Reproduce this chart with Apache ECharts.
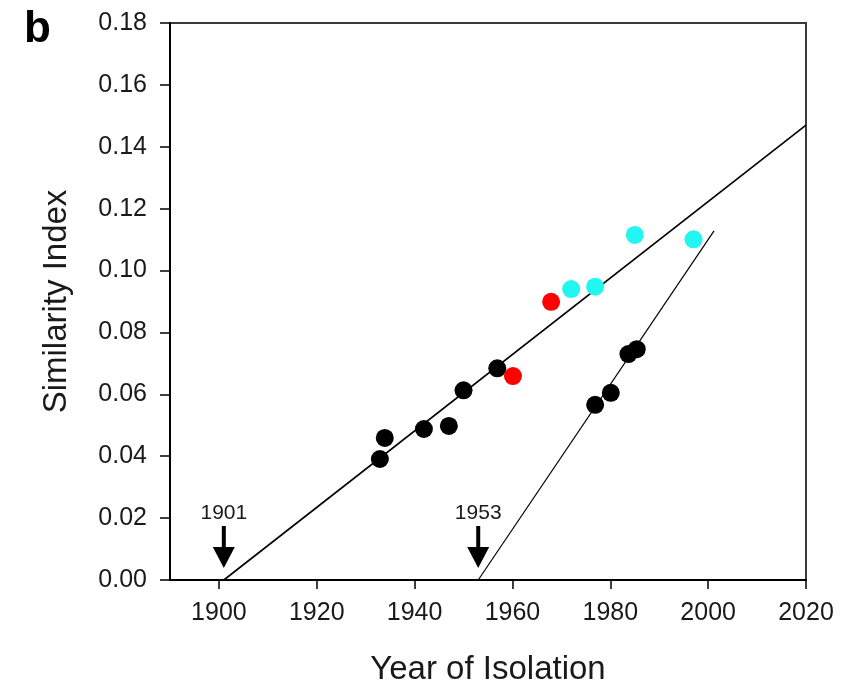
<!DOCTYPE html>
<html>
<head>
<meta charset="utf-8">
<script src="https://cdn.jsdelivr.net/npm/echarts@6/dist/echarts.min.js"></script>
<style>
  html, body { margin: 0; padding: 0; background: #fff; }
  #chart { width: 850px; height: 686px; }
</style>
</head>
<body>
<div id="chart"></div>
<script>
// Early isolates (black) fitted by the first regression line
const earlyYears  = [1932.9, 1933.9, 1941.9, 1947.0, 1950.0, 1956.9];
const earlyValues = [0.0391, 0.0459, 0.0488, 0.0498, 0.0613, 0.0684];

// Red isolates
const redYears  = [1960.1, 1967.9];
const redValues = [0.0659, 0.0899];

// Cyan isolates
const cyanYears  = [1972.0, 1976.9, 1985.0, 1997.0];
const cyanValues = [0.0940, 0.0948, 0.1115, 0.1101];

// Late isolates (black) fitted by the second regression line
const lateYears  = [1976.9, 1980.1, 1983.7, 1985.4];
const lateValues = [0.0566, 0.0605, 0.0730, 0.0746];

// Regression lines (x-intercepts 1901 and 1953)
const fitAYears  = [1901, 2020];
const fitAValues = [0, 0.147];
const fitBYears  = [1953, 2001.2];
const fitBValues = [0, 0.1128];

// Annotated intercept years
const interceptYears = [1901, 1953];

// Axis ticks
const xTickValues = [1900, 1920, 1940, 1960, 1980, 2000, 2020];

const FONT = '"Liberation Sans", Arial, sans-serif';

const pairs = (xs, ys) => xs.map((x, i) => [x, ys[i]]);

const chart = echarts.init(document.getElementById('chart'), null, { renderer: 'canvas' });

const arrowPath = 'path://M9,0L13,0L13,21L22,21L11,42L0,21L9,21Z';

const dot = color => ({ color: color, opacity: 1 });

chart.setOption({
  animation: false,
  backgroundColor: '#ffffff',
  title: {
    text: 'b',
    left: 19,
    top: 3,
    textStyle: { fontFamily: FONT, fontSize: 44, fontWeight: 'bold', color: '#000' }
  },
  grid: {
    left: 170, right: 44, top: 23, bottom: 106,
    outerBoundsMode: 'none',
    containLabel: false,
    show: true, borderColor: '#3a3a3a', borderWidth: 2, backgroundColor: 'transparent'
  },
  xAxis: {
    type: 'value',
    min: 1890, max: 2020,
    name: 'Year of Isolation',
    nameLocation: 'middle',
    nameGap: 73,
    nameTextStyle: { fontFamily: FONT, fontSize: 33, color: '#1a1a1a' },
    splitLine: { show: false },
    axisLine: { show: true, onZero: false, lineStyle: { color: '#000', width: 2 } },
    axisTick: { show: true, length: 9, customValues: xTickValues, lineStyle: { color: '#000', width: 1.5 } },
    axisLabel: {
      customValues: xTickValues,
      margin: 21,
      fontFamily: FONT, fontSize: 25, color: '#1a1a1a',
      formatter: v => String(v)
    }
  },
  yAxis: {
    type: 'value',
    min: 0, max: 0.18, interval: 0.02,
    name: 'Similarity Index',
    nameLocation: 'middle',
    nameRotate: 90,
    nameGap: 97,
    nameTextStyle: { fontFamily: FONT, fontSize: 33, color: '#1a1a1a' },
    splitLine: { show: false },
    axisLine: { show: true, onZero: false, lineStyle: { color: '#000', width: 2 } },
    axisTick: { show: true, length: 10, lineStyle: { color: '#000', width: 1.5 } },
    axisLabel: {
      margin: 23,
      fontFamily: FONT, fontSize: 25, color: '#1a1a1a',
      formatter: v => v.toFixed(2)
    }
  },
  series: [
    {
      type: 'line', data: pairs(fitAYears, fitAValues),
      symbol: 'none', lineStyle: { color: '#000', width: 1.6 }, z: 2
    },
    {
      type: 'line', data: pairs(fitBYears, fitBValues),
      symbol: 'none', lineStyle: { color: '#000', width: 1.2 }, z: 2
    },
    {
      type: 'scatter', data: interceptYears.map(y => [y, 0]),
      symbol: arrowPath, symbolSize: [22, 42], symbolOffset: [0, -33],
      itemStyle: dot('#000'),
      label: {
        show: true, position: 'top', distance: 2,
        fontFamily: FONT, fontSize: 21, color: '#1a1a1a',
        formatter: p => String(p.value[0])
      },
      z: 3
    },
    {
      type: 'scatter', data: pairs(earlyYears, earlyValues),
      symbol: 'circle', symbolSize: 18, itemStyle: dot('#000'), z: 4
    },
    {
      type: 'scatter', data: pairs(lateYears, lateValues),
      symbol: 'circle', symbolSize: 18, itemStyle: dot('#000'), z: 4
    },
    {
      type: 'scatter', data: pairs(redYears, redValues),
      symbol: 'circle', symbolSize: 18, itemStyle: dot('#ff0000'), z: 4
    },
    {
      type: 'scatter', data: pairs(cyanYears, cyanValues),
      symbol: 'circle', symbolSize: 18, itemStyle: dot('#22f6f0'), z: 4
    }
  ]
});
</script>
</body>
</html>
